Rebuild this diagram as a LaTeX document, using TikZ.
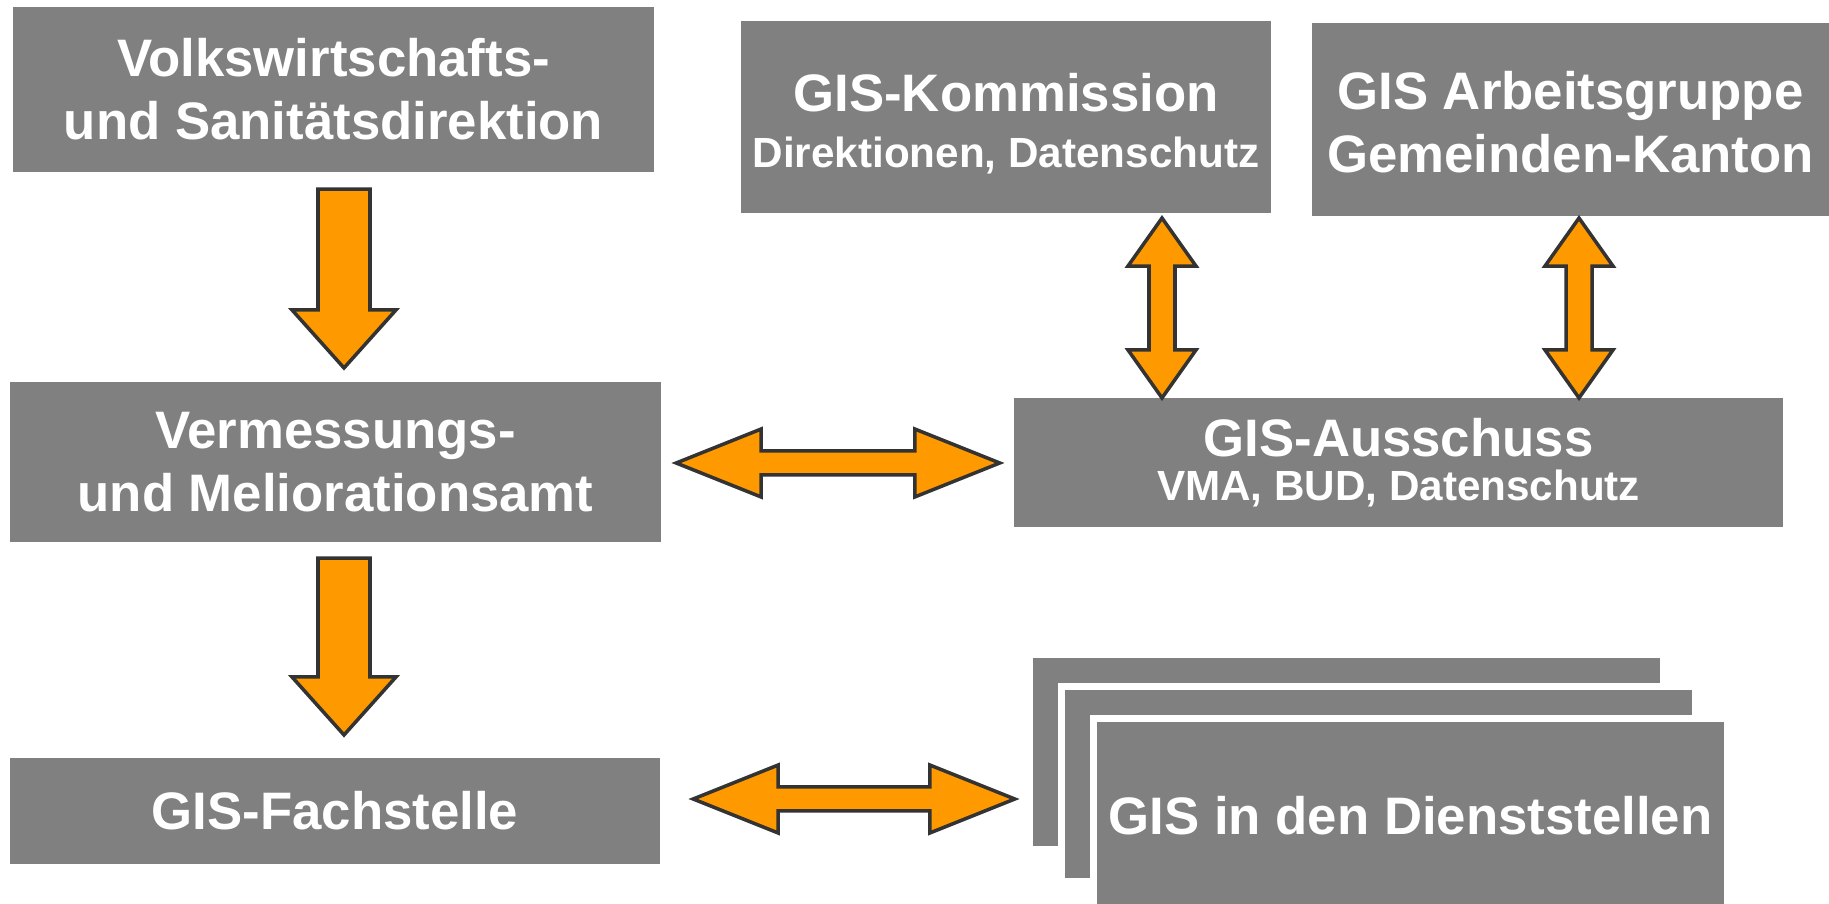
\documentclass[tikz,border=0pt]{standalone}
\usepackage{fontspec}
\setmainfont{Liberation Sans}
\usepackage{tikz}
\usetikzlibrary{positioning,calc}
\definecolor{boxgrey}{HTML}{808080}
\definecolor{arrorange}{HTML}{FF9900}
\definecolor{arrline}{HTML}{333333}

\tikzset{
  box/.style={fill=boxgrey, text=white, align=center, inner sep=0pt, outer sep=0pt,
    font=\fontsize{15}{18}\selectfont\bfseries},
  stackbox/.style={box, minimum width=6.27cm, minimum height=1.88cm,
    preaction={draw=white, line width=4pt}},
  fatarrow/.style={fill=arrorange, draw=arrline, line width=1pt, line join=miter}
}
\newcommand{\sublabel}{\fontsize{12}{14}\selectfont}

\begin{document}
\begin{tikzpicture}[x=0.01cm, y=-0.01cm]
\useasboundingbox (0,0) rectangle (1829,904);
% left column
\node[box, minimum width=6.41cm, minimum height=1.65cm] (vsd) at (333.5,89.5) {Volkswirtschafts-\\und Sanitätsdirektion};
\node[box, minimum width=6.51cm, minimum height=1.60cm] (vma) at (335.5,462) {Vermessungs-\\und Meliorationsamt};
\node[box, minimum width=6.50cm, minimum height=1.06cm] (fach) at (335,811) {GIS-Fachstelle};
% right side
\node[box, minimum width=5.30cm, minimum height=1.92cm] (kom) at (1006,117) {\rule{0pt}{14.5pt}GIS-Kommission\\[-2pt]{\sublabel Direktionen, Datenschutz}};
\node[box, minimum width=5.17cm, minimum height=1.93cm] (ag) at (1570.5,119.5) {\rule{0pt}{12.5pt}GIS Arbeitsgruppe\\Gemeinden-Kanton};
\node[box, minimum width=7.69cm, minimum height=1.29cm] (aus) at (1398.5,462.5) {GIS-Ausschuss\\[-5.5pt]{\sublabel VMA, BUD, Datenschutz}};
% stacked boxes
\node[stackbox] (dst1) at (1346.5,752) {};
\node[stackbox] (dst2) at (1378.5,784) {};
\node[stackbox] (dst3) at (1410.5,816) {GIS in den Dienststellen};

% arrow ends
\coordinate (d1a) at ($(vsd.south)+(10.5,17)$);
\coordinate (d1b) at ($(d1a |- vma.north)+(0,-14)$);
\coordinate (d2a) at ($(vma.south)+(8.5,16)$);
\coordinate (d2b) at ($(d2a |- fach.north)+(0,-23)$);
\coordinate (k1) at ($(kom.south)+(156,5)$);
\coordinate (k2) at (k1 |- aus.north);
\coordinate (g1) at ($(ag.south)+(8.5,2)$);
\coordinate (g2) at (g1 |- aus.north);
\coordinate (h1) at ($(vma.east)+(15,1)$);
\coordinate (h2) at ($(h1 -| aus.west)+(-14,0)$);
\coordinate (h3) at ($(fach.east)+(33,-12)$);
\coordinate (h4) at ($(h3 -| dst1.west)+(-18,0)$);

% down arrows
\foreach \sa/\sb in {d1a/d1b, d2a/d2b}
  \draw[fatarrow] ($(\sa)+(-26,0)$) -- ($(\sa)+(26,0)$) -- ($(\sb)+(26,-58)$) -- ($(\sb)+(52,-58)$)
    -- (\sb) -- ($(\sb)+(-52,-58)$) -- ($(\sb)+(-26,-58)$) -- cycle;
% up-down arrows
\foreach \sa/\sb in {k1/k2, g1/g2}
  \draw[fatarrow] (\sa) -- ($(\sa)+(34,48)$) -- ($(\sa)+(13,48)$) -- ($(\sb)+(13,-48)$) -- ($(\sb)+(34,-48)$)
    -- (\sb) -- ($(\sb)+(-34,-48)$) -- ($(\sb)+(-13,-48)$) -- ($(\sa)+(-13,48)$) -- ($(\sa)+(-34,48)$) -- cycle;
% left-right arrows
\foreach \sa/\sb in {h1/h2, h3/h4}
  \draw[fatarrow] (\sa) -- ($(\sa)+(85,-34)$) -- ($(\sa)+(85,-12)$) -- ($(\sb)+(-85,-12)$) -- ($(\sb)+(-85,-34)$)
    -- (\sb) -- ($(\sb)+(-85,34)$) -- ($(\sb)+(-85,12)$) -- ($(\sa)+(85,12)$) -- ($(\sa)+(85,34)$) -- cycle;
\end{tikzpicture}
\end{document}
